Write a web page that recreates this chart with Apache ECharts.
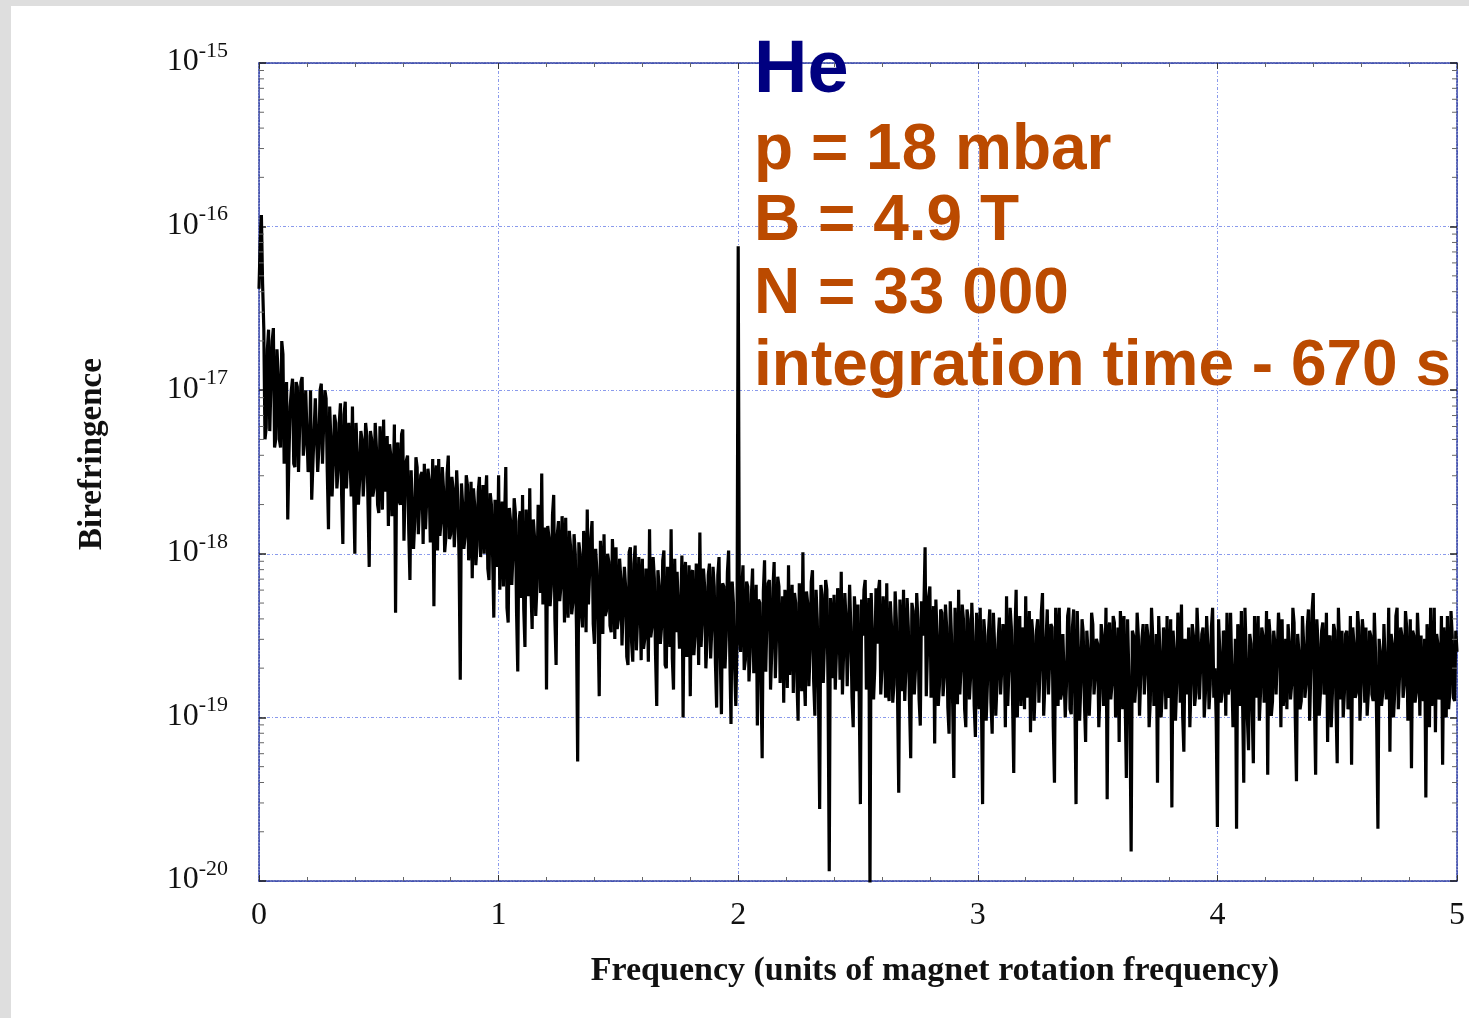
<!DOCTYPE html>
<html><head><meta charset="utf-8">
<script src="https://cdn.jsdelivr.net/npm/echarts@6/dist/echarts.min.js"></script>
<style>html,body{margin:0;padding:0;background:#dedede;overflow:hidden;}#c{width:1469px;height:1018px;}</style>
</head><body><div id="c"></div>
<script>
// Frequency bin spacing (units of magnet rotation frequency)
const FREQ_STEP = 0.005;
// log10 of birefringence amplitude, one value per frequency bin
const logBirefringence = [
-16.38,-16.10,-15.93,-16.35,-16.62,-17.30,-17.23,-16.75,-16.63,-17.25,-16.95,-16.70,-16.62,-17.35,-17.30,-16.75,-16.90,-17.30,-17.35,-16.70,
-16.78,-17.45,-17.20,-16.95,-17.79,-17.40,-17.10,-17.00,-16.93,-17.45,-17.47,-16.95,-16.98,-17.50,-17.20,-16.95,-16.92,-17.40,-17.30,-17.00,
-17.00,-17.50,-17.45,-17.00,-17.67,-17.45,-17.25,-17.05,-17.04,-17.50,-17.35,-17.00,-16.96,-17.45,-17.20,-17.00,-17.05,-17.50,-17.85,-17.10,
-17.30,-17.65,-17.45,-17.15,-17.20,-17.60,-17.50,-17.20,-17.08,-17.65,-17.94,-17.15,-17.07,-17.60,-17.40,-17.20,-17.20,-17.65,-17.10,-17.60,
-18.00,-17.20,-17.40,-17.70,-17.55,-17.25,-17.30,-17.65,-17.50,-17.20,-17.28,-17.70,-18.08,-17.25,-17.30,-17.65,-17.60,-17.20,-17.35,-17.70,
-17.75,-17.22,-17.40,-17.73,-17.18,-17.62,-17.55,-17.28,-17.83,-17.33,-17.40,-17.77,-17.60,-17.21,-18.36,-17.35,-17.32,-17.68,-17.70,-17.27,
-17.24,-17.92,-17.60,-17.43,-17.40,-17.86,-18.16,-17.49,-17.50,-17.97,-17.80,-17.41,-17.47,-17.88,-17.70,-17.52,-17.50,-17.94,-17.45,-17.85,
-17.85,-17.48,-17.55,-17.93,-17.75,-17.42,-18.32,-17.54,-17.46,-17.98,-17.42,-17.89,-17.80,-17.47,-17.60,-17.99,-17.90,-17.51,-17.40,-17.91,
-17.88,-17.53,-17.60,-17.96,-17.80,-17.49,-17.67,-18.03,-18.77,-17.57,-17.70,-17.97,-17.90,-17.52,-17.58,-18.04,-17.85,-17.56,-18.15,-17.60,
-17.70,-18.07,-17.95,-17.62,-17.53,-18.02,-17.80,-17.58,-18.00,-17.66,-17.52,-18.09,-18.16,-17.63,-17.70,-18.01,-18.39,-17.67,-17.75,-18.08,
-17.52,-18.22,-17.90,-17.68,-18.20,-17.78,-17.47,-18.33,-18.42,-17.72,-17.80,-18.19,-18.00,-17.66,-17.75,-18.36,-18.72,-17.80,-17.74,-18.27,
-17.64,-18.34,-18.57,-17.73,-17.95,-18.26,-17.60,-18.21,-18.46,-17.79,-17.90,-18.38,-18.20,-17.70,-17.85,-18.24,-17.51,-18.31,-18.10,-17.84,
-18.83,-17.83,-17.90,-18.32,-18.20,-17.76,-17.64,-18.40,-18.68,-17.88,-17.80,-18.29,-18.20,-17.77,-17.95,-18.42,-17.78,-18.27,-18.39,-17.86,
-17.95,-18.37,-18.30,-17.88,-18.00,-18.45,-19.27,-17.93,-18.00,-18.36,-18.45,-17.86,-18.00,-18.48,-17.73,-18.31,-18.30,-17.90,-17.80,-18.43,
-18.55,-17.97,-18.10,-18.41,-18.87,-17.92,-18.10,-18.49,-17.88,-18.38,-18.35,-18.00,-18.05,-18.44,-18.48,-17.91,-18.10,-18.52,-17.96,-18.46,
-18.40,-18.03,-18.15,-18.56,-18.55,-18.08,-18.20,-18.63,-18.68,-17.99,-17.96,-18.54,-18.66,-18.06,-17.95,-18.59,-18.40,-18.02,-18.20,-18.65,
-18.03,-18.58,-18.52,-18.09,-18.20,-18.66,-17.85,-18.51,-18.45,-18.02,-18.15,-18.62,-18.93,-18.10,-18.20,-18.55,-18.45,-18.04,-17.98,-18.68,
-18.70,-18.08,-18.20,-18.57,-17.85,-18.64,-18.83,-18.03,-18.48,-18.11,-18.10,-18.58,-18.35,-18.01,-19.00,-18.14,-18.05,-18.63,-18.40,-18.07,
-18.87,-18.12,-18.10,-18.62,-18.50,-18.06,-18.20,-18.68,-17.87,-18.57,-18.40,-18.09,-18.20,-18.70,-18.53,-18.13,-18.06,-18.64,-18.45,-18.08,
-18.20,-18.67,-18.94,-18.13,-18.02,-18.61,-18.98,-18.18,-18.20,-18.70,-18.50,-18.11,-17.98,-18.63,-19.04,-18.17,-18.30,-18.69,-18.93,-18.55,
-16.12,-18.45,-18.60,-18.22,-18.07,-18.71,-18.65,-18.17,-18.20,-18.78,-18.60,-18.25,-18.09,-18.73,-18.50,-18.19,-19.05,-18.28,-18.30,-18.77,
-19.25,-18.23,-18.04,-18.72,-18.40,-18.18,-18.16,-18.83,-18.60,-18.21,-18.05,-18.76,-18.50,-18.14,-18.20,-18.79,-18.55,-18.26,-18.91,-18.22,
-18.30,-18.82,-18.07,-18.74,-18.50,-18.19,-18.85,-18.24,-18.30,-18.77,-19.02,-18.18,-18.40,-18.84,-17.99,-18.73,-18.93,-18.23,-18.30,-18.81,
-18.60,-18.17,-18.10,-18.78,-18.99,-18.22,-18.40,-18.85,-19.56,-18.19,-18.25,-18.79,-18.55,-18.16,-18.22,-18.82,-19.94,-18.27,-18.40,-18.76,
-18.25,-18.83,-18.60,-18.21,-18.30,-18.77,-18.11,-18.86,-18.60,-18.24,-18.40,-18.81,-18.80,-18.19,-18.45,-18.88,-19.06,-18.26,-18.40,-18.84,
-18.31,-18.87,-19.53,-18.28,-18.50,-18.22,-18.16,-18.83,-18.60,-18.27,-20.05,-18.24,-18.50,-18.89,-18.70,-18.21,-18.55,-18.23,-18.16,-18.86,
-18.70,-18.26,-18.40,-18.88,-18.18,-18.82,-18.90,-18.29,-18.45,-18.91,-18.80,-18.23,-18.40,-18.87,-19.46,-18.28,-18.50,-18.84,-18.22,-18.90,
-18.70,-18.27,-18.45,-18.92,-19.25,-18.30,-18.35,-18.86,-18.70,-18.24,-18.40,-18.89,-19.05,-18.29,-18.50,-18.33,-17.96,-18.87,-18.60,-18.26,
-18.20,-18.88,-18.60,-18.32,-19.16,-18.28,-18.50,-18.93,-18.80,-18.34,-18.36,-18.87,-18.75,-18.31,-18.45,-18.94,-19.10,-18.29,-18.50,-18.91,
-19.37,-18.33,-18.60,-18.92,-18.22,-18.86,-18.70,-18.31,-18.40,-18.95,-19.06,-18.34,-18.40,-18.89,-18.75,-18.30,-18.50,-18.93,-19.12,-18.36,
-18.55,-18.95,-18.33,-18.88,-19.53,-18.40,-18.50,-19.02,-18.80,-18.47,-18.34,-18.91,-19.10,-18.36,-18.55,-18.99,-18.80,-18.52,-18.39,-18.86,
-18.70,-18.43,-18.50,-19.06,-18.26,-18.93,-18.70,-18.33,-18.45,-18.89,-19.34,-18.49,-18.22,-19.00,-18.60,-18.38,-18.93,-18.45,-18.45,-18.95,
-18.26,-18.88,-18.70,-18.35,-19.09,-18.40,-18.50,-19.02,-18.80,-18.47,-18.40,-18.91,-18.70,-18.36,-18.24,-18.99,-18.80,-18.52,-18.34,-18.86,
-18.65,-18.43,-18.45,-19.06,-19.40,-18.33,-18.50,-18.93,-18.33,-18.89,-18.85,-18.49,-18.50,-19.00,-18.80,-18.38,-18.33,-18.95,-18.98,-18.45,
-18.34,-18.88,-19.53,-18.35,-18.60,-19.02,-18.80,-18.40,-18.48,-18.91,-19.15,-18.47,-18.60,-18.99,-18.80,-18.36,-18.43,-18.86,-18.75,-18.52,
-18.55,-19.06,-18.85,-18.43,-18.50,-18.93,-18.75,-18.33,-19.50,-18.49,-18.42,-18.89,-18.80,-18.38,-18.42,-19.00,-18.75,-18.45,-19.15,-18.35,
-18.50,-18.95,-18.38,-18.88,-19.37,-18.40,-18.40,-19.02,-19.82,-18.47,-18.50,-18.91,-18.80,-18.36,-18.50,-18.99,-18.75,-18.52,-18.43,-18.86,
-18.70,-18.43,-18.50,-19.06,-18.90,-18.33,-18.50,-18.93,-18.85,-18.49,-19.40,-18.38,-18.60,-19.00,-18.85,-18.45,-18.55,-18.95,-18.38,-18.88,
-18.80,-18.40,-19.55,-18.47,-18.60,-19.02,-18.80,-18.36,-18.50,-18.91,-18.31,-18.99,-19.21,-18.52,-18.60,-18.86,-18.45,-19.06,-18.80,-18.43,
-18.50,-18.93,-18.85,-18.33,-18.52,-18.89,-18.90,-18.49,-18.45,-19.00,-18.85,-18.38,-18.55,-18.95,-18.80,-18.45,-18.33,-18.88,-18.70,-19.02,
-19.67,-18.40,-18.60,-18.91,-18.85,-18.47,-18.50,-18.99,-18.36,-18.86,-18.80,-18.36,-18.37,-19.06,-18.90,-18.52,-19.68,-18.43,-18.50,-18.93,
-18.35,-18.89,-19.40,-18.33,-18.60,-19.00,-19.20,-18.49,-18.55,-18.95,-19.28,-18.38,-18.60,-18.88,-18.38,-19.02,-18.85,-18.45,-18.50,-18.91,
-18.80,-18.35,-19.35,-18.40,-18.50,-18.99,-18.90,-18.47,-18.55,-18.86,-18.85,-18.36,-18.50,-19.06,-18.40,-18.93,-18.80,-18.52,-18.95,-18.43,
-18.55,-18.89,-18.80,-18.33,-18.42,-19.00,-19.39,-18.49,-18.60,-18.95,-18.90,-18.38,-18.55,-18.88,-18.80,-18.45,-18.34,-19.02,-18.70,-18.35,
-18.24,-18.91,-19.35,-18.40,-18.55,-18.99,-18.85,-18.47,-18.42,-18.86,-18.80,-18.36,-19.15,-18.52,-18.50,-19.06,-18.85,-18.43,-18.47,-18.93,
-19.28,-18.33,-18.55,-18.89,-18.47,-19.00,-18.85,-18.49,-18.47,-18.95,-18.90,-18.38,-19.29,-18.45,-18.55,-18.88,-18.85,-18.35,-18.45,-19.02,
-18.80,-18.40,-18.50,-18.91,-18.45,-18.99,-18.85,-18.47,-18.50,-18.86,-18.90,-18.36,-18.60,-19.06,-19.68,-18.52,-18.60,-18.93,-18.85,-18.43,
-18.42,-18.89,-18.80,-18.33,-19.21,-18.49,-18.55,-19.00,-18.85,-18.38,-18.33,-18.95,-18.75,-18.45,-18.50,-18.88,-18.80,-18.35,-18.45,-19.02,
-18.85,-18.40,-19.31,-18.47,-18.50,-18.91,-18.85,-18.36,-18.55,-18.99,-18.50,-18.86,-18.90,-18.52,-19.49,-18.43,-18.60,-19.06,-18.33,-18.93,
-18.80,-18.33,-19.09,-18.49,-18.55,-18.89,-18.85,-18.38,-19.29,-18.45,-18.60,-19.00,-18.38,-18.95,-18.85,-18.35,-18.50,-18.88,-18.90,-18.47,
-18.60
];
const xTickLabels = ['0','1','2','3','4','5'];
const yTickExponents = [-20,-19,-18,-17,-16,-15];
const yMinorMultipliers = [2,3,4,5,6,7,8,9];
const xAxisTitle = 'Frequency (units of magnet rotation frequency)';
const yAxisTitle = 'Birefringence';
const annotationTitle = 'He';
const annotationLines = ['p = 18 mbar', 'B = 4.9 T', 'N = 33 000', 'integration time - 670 s'];

const seriesData = logBirefringence.map((l, i) => [+(i * FREQ_STEP).toFixed(3), Math.pow(10, l)]);
const minorTickData = [];
yTickExponents.slice(0, -1).forEach(e => yMinorMultipliers.forEach(m => minorTickData.push([0, m * Math.pow(10, e)])));

const axisLineStyle = { color: '#2b3aa0', width: 1.5, type: [2, 1] };
const gridLineStyle = { color: '#8a9aec', width: 1, type: [3, 2, 1, 2] };
const serif = '"Liberation Serif", "Times New Roman", serif';
const sans = '"Liberation Sans", Arial, sans-serif';

const chart = echarts.init(document.getElementById('c'), null, { renderer: 'canvas' });
const annotationCenters = [151, 222, 295, 367];
const option = {
  animation: false,
  backgroundColor: '#dedede',
  grid: { left: 259, right: 12, top: 63, bottom: 137, containLabel: false },
  xAxis: [{
    type: 'value', min: 0, max: 5, interval: 1, position: 'bottom',
    axisLine: { show: true, onZero: false, lineStyle: axisLineStyle },
    axisTick: { show: true, inside: true, length: 6, lineStyle: { color: '#333' } },
    minorTick: { show: true, splitNumber: 5, length: 4, lineStyle: { color: '#666' } },
    axisLabel: { margin: 19, fontFamily: serif, fontSize: 32, color: '#111',
      formatter: v => xTickLabels[Math.round(v)] },
    splitLine: { show: true, lineStyle: gridLineStyle },
    name: xAxisTitle, nameLocation: 'middle', nameGap: 72,
    nameTextStyle: { fontFamily: serif, fontWeight: 'bold', fontSize: 34, color: '#111', lineHeight: 36, padding: [0, 0, 0, 154] }
  }, {
    type: 'value', min: 0, max: 5, interval: 1, position: 'top',
    axisLine: { show: true, onZero: false, lineStyle: axisLineStyle },
    axisTick: { show: true, inside: true, length: 6, lineStyle: { color: '#333' } },
    minorTick: { show: true, splitNumber: 5, length: 4, lineStyle: { color: '#666' } },
    axisLabel: { show: false }, splitLine: { show: false }
  }],
  yAxis: [{
    type: 'log', logBase: 10, min: 1e-20, max: 1e-15, position: 'left',
    axisLine: { show: true, onZero: false, lineStyle: axisLineStyle },
    axisTick: { show: true, inside: true, length: 7, lineStyle: { color: '#222', width: 1.5 } },
    minorTick: { show: false },
    axisLabel: {
      margin: 31,
      formatter: v => {
        const e = Math.round(Math.log10(v));
        return yTickExponents.indexOf(e) >= 0 ? '{b|10}{s|' + e + '}' : '';
      },
      rich: {
        b: { fontFamily: serif, fontSize: 32, color: '#111', lineHeight: 32, padding: [0, 0, 2, 0], verticalAlign: 'middle' },
        s: { fontFamily: serif, fontSize: 22, color: '#111', lineHeight: 22, padding: [0, 0, 24, 0], verticalAlign: 'middle' }
      }
    },
    splitLine: { show: true, lineStyle: gridLineStyle },
    name: yAxisTitle, nameLocation: 'middle', nameGap: 149,
    nameTextStyle: { fontFamily: serif, fontWeight: 'bold', fontSize: 33, color: '#111', lineHeight: 36, padding: [0, 0, 0, 36] }
  }, {
    type: 'log', logBase: 10, min: 1e-20, max: 1e-15, position: 'right',
    axisLine: { show: true, onZero: false, lineStyle: axisLineStyle },
    axisTick: { show: true, inside: true, length: 7, lineStyle: { color: '#222', width: 1.5 } },
    axisLabel: { show: false }, splitLine: { show: false }
  }],
  series: [{
    type: 'line', xAxisIndex: 0, yAxisIndex: 0, data: seriesData,
    showSymbol: false, symbol: 'none', clip: true, z: 3, progressive: 0,
    lineStyle: { color: '#000', width: 3.2 }
  }, {
    type: 'custom', xAxisIndex: 0, yAxisIndex: 0, data: minorTickData, silent: true, z: 4,
    encode: { x: 0, y: 1 },
    renderItem: (params, api) => {
      const v = api.value(1);
      const pL = api.coord([0, v]);
      const pR = api.coord([5, v]);
      return { type: 'group', children: [
        { type: 'line', shape: { x1: pL[0], y1: pL[1], x2: pL[0] + 5, y2: pL[1] }, style: { stroke: '#666', lineWidth: 1 } },
        { type: 'line', shape: { x1: pR[0], y1: pR[1], x2: pR[0] - 5, y2: pR[1] }, style: { stroke: '#666', lineWidth: 1 } }
      ] };
    }
  }],
  graphic: [
    { type: 'rect', z: -100, silent: true, shape: { x: 11, y: 6, width: 1458, height: 1012 }, style: { fill: '#ffffff' } },
    { type: 'text', z: 100, x: 754, y: 72, style: { text: annotationTitle, font: 'bold 74px ' + sans, fill: '#000080', align: 'left', verticalAlign: 'middle' } }
  ].concat(annotationLines.map((t, k) => ({
    type: 'text', z: 100, x: 754, y: annotationCenters[k],
    style: { text: t, font: 'bold 64px ' + sans, fill: '#bb4a00', align: 'left', verticalAlign: 'middle' }
  })))
};
chart.setOption(option);
</script>
</body></html>
